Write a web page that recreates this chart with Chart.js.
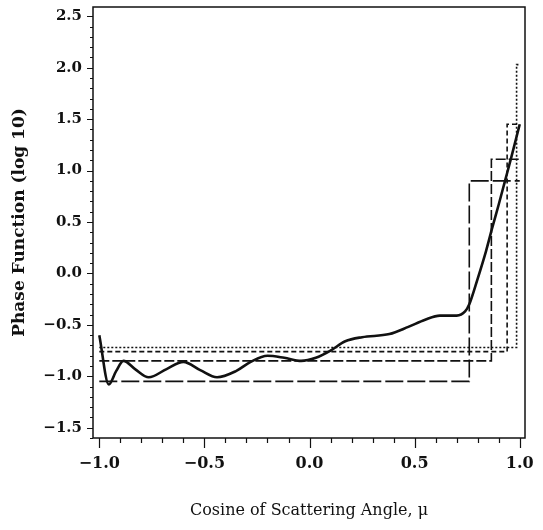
<!DOCTYPE html>
<html>
<head>
<meta charset="utf-8">
<script src="https://cdn.jsdelivr.net/npm/chart.js@4"></script>
<style>
  html, body { margin: 0; padding: 0; background: #fff; }
  canvas { display: block; }
</style>
</head>
<body>
<canvas id="phase-chart" width="543" height="530"></canvas>
<script>
// ---- data ----
// solid curve: phase function, log10
const muCurve = [-1.0, -0.955, -0.92, -0.885, -0.83, -0.765, -0.68, -0.60, -0.52, -0.44, -0.35, -0.28, -0.20, -0.12, -0.04, 0.03, 0.10, 0.17, 0.25, 0.38, 0.47, 0.55, 0.62, 0.70, 0.74, 0.76, 0.80, 0.84, 0.87, 0.90, 0.93, 0.96, 1.0];
const phaseCurve = [-0.60, -1.08, -0.95, -0.85, -0.93, -1.01, -0.93, -0.86, -0.94, -1.01, -0.95, -0.86, -0.80, -0.82, -0.85, -0.82, -0.75, -0.66, -0.62, -0.59, -0.52, -0.45, -0.41, -0.41, -0.37, -0.30, -0.05, 0.22, 0.45, 0.67, 0.90, 1.13, 1.45];

// step approximations: [mu points], [log10 values]
const muStepA = [-1.0, 0.76, 0.76, 1.0];
const stepA = [-1.05, -1.05, 0.90, 0.90];
const muStepB = [-1.0, 0.865, 0.865, 1.0];
const stepB = [-0.85, -0.85, 1.11, 1.11];
const muStepC = [-1.0, 0.94, 0.94, 1.0];
const stepC = [-0.76, -0.76, 1.45, 1.45];
const muStepD = [-1.0, 0.985, 0.985, 1.0];
const stepD = [-0.72, -0.72, 2.03, 2.03];

const xLabelStep = 0.5;
const yLabelStep = 0.5;

const pts = (xs, ys) => xs.map((x, i) => ({ x: x, y: ys[i] }));
const isMajor = (v, step) => Math.abs(v / step - Math.round(v / step)) < 1e-6;
const fmt = v => (Math.abs(v) < 1e-9 ? 0 : v).toFixed(1).replace('-', '\u2212');

// box frame + outward major/minor ticks
const frameAndTicks = {
    id: 'frameAndTicks',
    afterDraw(chart) {
        const { ctx, chartArea: a, scales: { x, y } } = chart;
        ctx.save();
        ctx.strokeStyle = '#111';
        ctx.lineWidth = 1.5;
        ctx.strokeRect(a.left, a.top, a.right - a.left, a.bottom - a.top);
        ctx.lineWidth = 1.2;
        ctx.beginPath();
        x.ticks.forEach(t => {
            const px = Math.round(x.getPixelForValue(t.value)) + 0.5;
            const len = isMajor(t.value, xLabelStep) ? 10 : 5;
            ctx.moveTo(px, a.bottom);
            ctx.lineTo(px, a.bottom + len);
        });
        y.ticks.forEach(t => {
            const py = Math.round(y.getPixelForValue(t.value)) + 0.5;
            const len = isMajor(t.value, yLabelStep) ? 6 : 3;
            ctx.moveTo(a.left, py);
            ctx.lineTo(a.left - len, py);
        });
        ctx.stroke();
        ctx.restore();
    }
};

const ctx = document.getElementById('phase-chart');
new Chart(ctx, {
    type: 'line',
    data: {
        datasets: [
            { data: pts(muCurve, phaseCurve), borderColor: '#111', borderWidth: 2.6, cubicInterpolationMode: 'monotone' },
            { data: pts(muStepA, stepA), borderColor: '#111', borderWidth: 1.6, borderDash: [18, 4] },
            { data: pts(muStepB, stepB), borderColor: '#111', borderWidth: 1.6, borderDash: [10, 3] },
            { data: pts(muStepC, stepC), borderColor: '#111', borderWidth: 1.6, borderDash: [5, 3] },
            { data: pts(muStepD, stepD), borderColor: '#111', borderWidth: 1.6, borderDash: [2, 2] }
        ]
    },
    options: {
        responsive: false,
        animation: false,
        events: [],
        layout: { padding: { top: 7, right: 18, left: 0, bottom: 0 } },
        elements: { point: { radius: 0 }, line: { tension: 0, fill: false } },
        plugins: { legend: { display: false }, tooltip: { enabled: false } },
        scales: {
            x: {
                type: 'linear',
                min: -1.03,
                max: 1.025,
                grid: { display: false, drawTicks: false },
                border: { display: false },
                ticks: {
                    stepSize: 0.1,
                    includeBounds: false,
                    autoSkip: false,
                    maxRotation: 0,
                    padding: 16,
                    color: '#111',
                    font: { family: 'DejaVu Serif', size: 16, weight: 'bold' },
                    callback: v => isMajor(v, xLabelStep) ? fmt(v) : ''
                },
                title: {
                    display: true,
                    text: 'Cosine of Scattering Angle, \u03bc',
                    color: '#111',
                    font: { family: 'DejaVu Serif', size: 16 },
                    padding: { top: 0, bottom: 10 }
                },
                afterFit: s => { s.height = 92; s.paddingLeft = 0; s.paddingRight = 0; }
            },
            y: {
                type: 'linear',
                min: -1.6,
                max: 2.59,
                grid: { display: false, drawTicks: false },
                border: { display: false },
                ticks: {
                    stepSize: 0.1,
                    includeBounds: false,
                    autoSkip: false,
                    padding: 11,
                    color: '#111',
                    font: { family: 'DejaVu Serif', size: 15, weight: 'bold' },
                    callback: v => isMajor(v, yLabelStep) ? fmt(v) : ''
                },
                title: {
                    display: true,
                    text: 'Phase Function (log 10)',
                    color: '#111',
                    font: { family: 'DejaVu Serif', size: 17, weight: 'bold' },
                    padding: { top: 9, bottom: 0 }
                },
                afterFit: s => { s.width = 93; s.paddingTop = 0; s.paddingBottom = 0; }
            }
        }
    },
    plugins: [frameAndTicks]
});
</script>
</body>
</html>
